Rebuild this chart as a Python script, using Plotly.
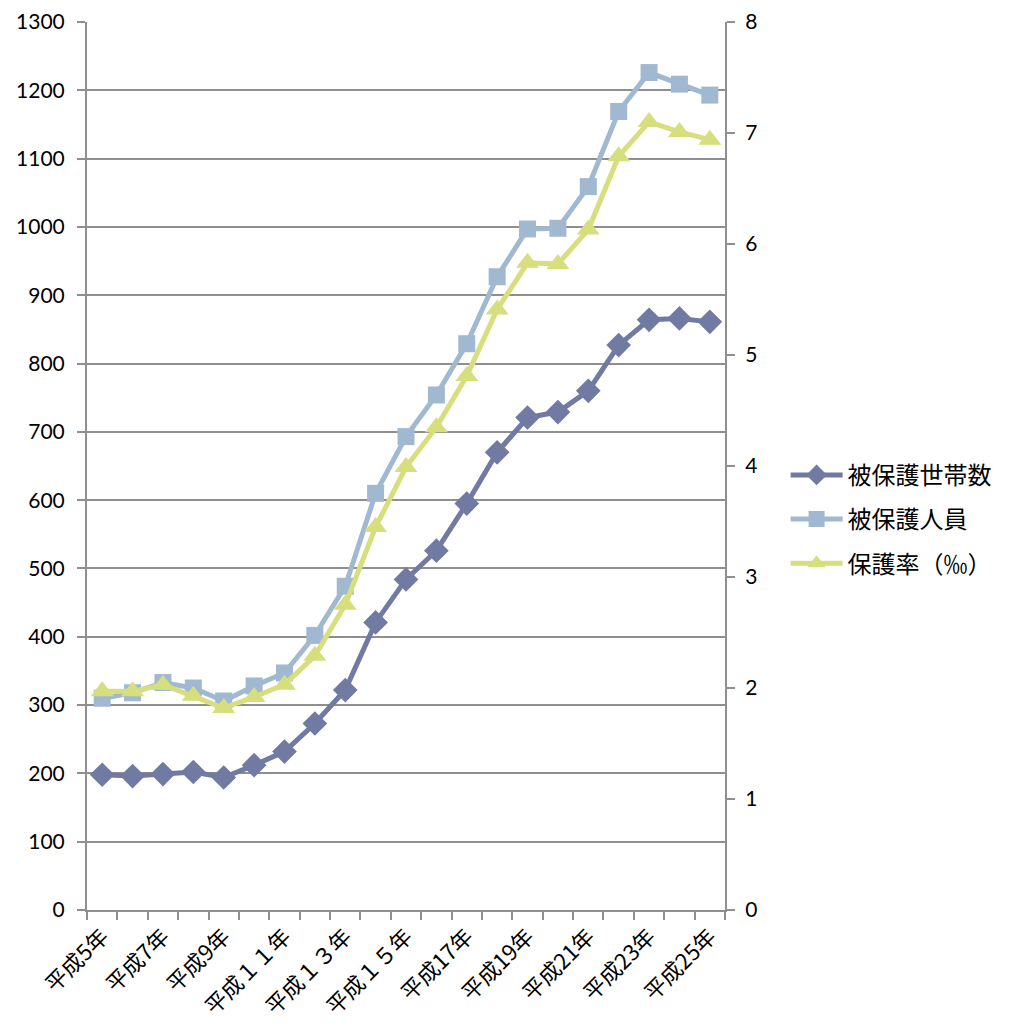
import plotly.graph_objects as go

# 年次（平成5年〜平成25年）
years = ["平成5年", "平成6年", "平成7年", "平成8年", "平成9年", "平成10年",
         "平成１１年", "平成１２年", "平成１３年", "平成１４年", "平成１５年", "平成１６年",
         "平成17年", "平成18年", "平成19年", "平成20年", "平成21年", "平成22年",
         "平成23年", "平成24年", "平成25年"]

# 被保護世帯数（左軸）
households = [198, 196, 199, 202, 194, 212, 232, 273, 322, 421, 484, 526,
              595, 670, 721, 729, 760, 827, 864, 866, 861]

# 被保護人員（左軸）
persons = [310, 318, 333, 325, 306, 328, 347, 402, 474, 610, 693, 754,
           829, 927, 997, 998, 1059, 1169, 1226, 1209, 1193]

# 保護率（‰, 右軸）
rate = [1.97, 1.97, 2.03, 1.93, 1.82, 1.92, 2.03, 2.29, 2.75, 3.45, 3.99, 4.35,
        4.81, 5.41, 5.83, 5.82, 6.13, 6.79, 7.10, 7.01, 6.94]

left_ticks = list(range(0, 1301, 100))
right_ticks = list(range(0, 9))

FONT = "Lato, 'Noto Sans CJK JP', sans-serif"
CJK = "'Noto Sans CJK JP', sans-serif"
GRID = "#8f8f8f"

idx = list(range(len(years)))

fig = go.Figure()
fig.add_trace(go.Scatter(
    x=idx, y=households, name="被保護世帯数", mode="lines+markers",
    line=dict(color="#707AA2", width=5),
    marker=dict(symbol="diamond", size=19, color="#707AA2"),
    legendgroup="a"))
fig.add_trace(go.Scatter(
    x=idx, y=persons, name="被保護人員", mode="lines+markers",
    line=dict(color="#A0B9D0", width=5),
    marker=dict(symbol="square", size=17, color="#A0B9D0"),
    legendgroup="b"))
fig.add_trace(go.Scatter(
    x=idx, y=rate, name="保護率（‰）", mode="lines+markers", yaxis="y2",
    line=dict(color="#D6DE7E", width=5),
    marker=dict(symbol="triangle-up", size=20, color="#D6DE7E"),
    legendgroup="c"))

fig.update_layout(
    width=1010, height=1027,
    margin=dict(l=87, r=285, t=22, b=117),
    paper_bgcolor="white", plot_bgcolor="white",
    font=dict(family=FONT, size=21, color="black"),
    showlegend=True,
    legend=dict(x=1.095, y=0.44, xanchor="left", yanchor="middle",
                font=dict(family=CJK, size=24, color="black"),
                tracegroupgap=10, itemwidth=52, bgcolor="rgba(0,0,0,0)"),
    xaxis=dict(
        range=[-0.5, len(years) - 0.5], automargin=False,
        tickmode="array", tickvals=idx[::2], ticktext=years[::2],
        tickangle=-45, tickfont=dict(family=CJK, size=22),
        ticks="outside", ticklen=3, tickcolor="rgba(0,0,0,0)",
        showline=True, linecolor=GRID, linewidth=2,
        showgrid=False, zeroline=False,
        minor=dict(tickmode="array",
                   tickvals=[i - 0.5 for i in range(len(years) + 1)],
                   ticks="outside", ticklen=8, tickcolor=GRID, tickwidth=2,
                   showgrid=False),
    ),
    yaxis=dict(
        range=[0, 1300], tickmode="array", tickvals=left_ticks,
        automargin=False,
        ticks="outside", ticklen=8, tickcolor=GRID, tickwidth=2,
        ticklabelstandoff=8,
        showline=True, linecolor=GRID, linewidth=2,
        showgrid=True, gridcolor=GRID, gridwidth=2, zeroline=False,
    ),
    yaxis2=dict(
        range=[0, 8], overlaying="y", side="right", automargin=False,
        tickmode="array", tickvals=right_ticks,
        ticks="outside", ticklen=8, tickcolor=GRID, tickwidth=2,
        ticklabelstandoff=6,
        showline=True, linecolor=GRID, linewidth=2,
        showgrid=False, zeroline=False,
    ),
)

fig.write_html("out.html")
